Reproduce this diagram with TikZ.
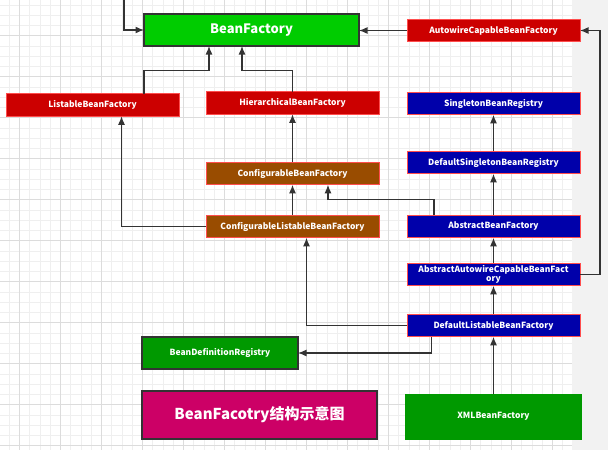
\documentclass[tikz,border=0pt]{standalone}
\usepackage{fontspec}
\setmainfont{Noto Sans CJK SC}
\newfontfamily\cjk{Noto Sans CJK SC}
\usetikzlibrary{arrows.meta,calc}
\definecolor{gridminor}{HTML}{EFEFEF}
\definecolor{gridmajor}{HTML}{DCDCDC}
\definecolor{strip}{HTML}{F2F2F2}
\definecolor{bfgreen}{HTML}{00CC00}
\definecolor{dkgreen}{HTML}{009900}
\definecolor{ifred}{HTML}{CC0000}
\definecolor{clblue}{HTML}{0000AA}
\definecolor{brown}{HTML}{994C00}
\definecolor{magenta}{HTML}{CC0066}
\definecolor{edgered}{HTML}{FF4D4D}
\definecolor{edgedark}{HTML}{333333}
\definecolor{linec}{HTML}{333333}
\begin{document}
\begin{tikzpicture}[x=1pt,y=-1pt,
  box/.style={draw=edgered,line width=0.9pt,text=white,inner sep=0pt,outer sep=0pt,
    font=\fontsize{8.5}{10}\selectfont\bfseries,align=center},
  redbox/.style={box,fill=ifred,minimum width=173pt,minimum height=22.5pt},
  bluebox/.style={box,fill=clblue,minimum width=173pt,minimum height=22.5pt},
  brownbox/.style={box,fill=brown,minimum width=173pt,minimum height=22.5pt},
  greenbox/.style={box,draw=edgedark,line width=1.3pt,fill=dkgreen},
  arr/.style={draw=linec,line width=1.3pt,-{Latex[length=8.5pt,width=7pt]}}]
\useasboundingbox (0,0) rectangle (608,450);
\fill[white] (0,0) rectangle (608,450);
\fill[strip] (572,0) rectangle (608,450);
\begin{scope}
\clip (0,0) rectangle (572,450);
\foreach \k in {-1,...,56} {
  \draw[gridminor,line width=0.6pt] ({19.3+\k*10.25},0) -- ({19.3+\k*10.25},450);
}
\foreach \k in {0,...,45} {
  \draw[gridminor,line width=0.6pt] (0,{-5.3+\k*10.25}) -- (572,{-5.3+\k*10.25});
}
\foreach \k in {0,...,14} {
  \draw[gridmajor,line width=0.7pt] ({19.3+\k*41},0) -- ({19.3+\k*41},450);
}
\foreach \k in {0,...,11} {
  \draw[gridmajor,line width=0.7pt] (0,{-5.3+\k*41}) -- (572,{-5.3+\k*41});
}
\end{scope}

% nodes
\node[box,draw=edgedark,line width=1.4pt,fill=bfgreen,minimum width=215pt,minimum height=32pt,
  font=\fontsize{13}{15}\selectfont\bfseries] (bf) at (251.5,30) {BeanFactory};
\node[redbox] (aw) at (493.5,30.5) {AutowireCapableBeanFactory};
\node[redbox] (lb) at (92.5,105) {ListableBeanFactory};
\node[redbox] (hb) at (292.5,103) {HierarchicalBeanFactory};
\node[bluebox] (sr) at (493.5,103.5) {SingletonBeanRegistry};
\node[brownbox] (cb) at (292.5,173.5) {ConfigurableBeanFactory};
\node[bluebox] (ds) at (493.5,162.5) {DefaultSingletonBeanRegistry};
\node[brownbox] (cl) at (292.5,226.5) {ConfigurableListableBeanFactory};
\node[bluebox] (ab) at (493.5,226.5) {AbstractBeanFactory};
\node[bluebox,font=\fontsize{8.5}{9.5}\selectfont\bfseries] (aa) at (493.5,274.5) {AbstractAutowireCapableBeanFact\\ory};
\node[bluebox] (dl) at (493.5,325.5) {DefaultListableBeanFactory};
\node[greenbox,minimum width=156pt,minimum height=32pt] (bdr) at (220,353) {BeanDefinitionRegistry};
\node[greenbox,fill=magenta,minimum width=235pt,minimum height=48pt,
  font=\cjk\fontsize{15}{18}\selectfont\bfseries] (title) at (259.5,415) {BeanFacotry结构示意图};
\node[box,draw=dkgreen,fill=dkgreen,minimum width=176pt,minimum height=45pt] (xml) at (493.5,416.5) {XMLBeanFactory};

\coordinate (topc) at (124,0);
\coordinate (rc) at (600,274.5);

% connectors
\draw[arr] (topc) |- (bf.west);
\draw[arr] (aw.west) -- (aw.west -| bf.east);
\draw[arr] (aa.east) -- (rc) |- (aw.east);
\draw[arr] ($(lb.north)+(51.5,0)$) |- ($(bf.south)+(-42.5,24.5)$) -- ($(bf.south)+(-42.5,0)$);
\draw[arr] (hb.north) |- ($(bf.south)+(-9.5,24.5)$) -- ($(bf.south)+(-9.5,0)$);
\draw[arr] (cb.north) -- (hb.south);
\draw[arr] (cl.north) -- (cb.south);
\draw[arr] ($(ab.north)+(-59.5,0)$) |- ($(cb.south)+(35.5,15)$) -- ($(cb.south)+(35.5,0)$);
\draw[arr] (cl.west) -| ($(lb.south)+(29,0)$);
\draw[arr] (dl.west) -| ($(cl.south)+(14,0)$);
\draw[arr] ($(dl.south)+(-62,0)$) |- (bdr.east);
\draw[arr] (xml.north) -- (dl.south);
\draw[arr] (dl.north) -- (aa.south);
\draw[arr] (aa.north) -- (ab.south);
\draw[arr] (ab.north) -- (ds.south);
\draw[arr] (ds.north) -- (sr.south);
\end{tikzpicture}
\end{document}
